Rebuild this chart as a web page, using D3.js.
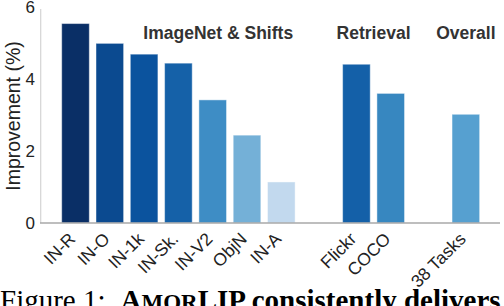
<!DOCTYPE html>
<html>
<head>
<meta charset="utf-8">
<script src="https://cdn.jsdelivr.net/npm/d3@7"></script>
<style>
body { margin: 0; background: #fff; }
svg { display: block; }
</style>
</head>
<body>
<svg id="chart" width="504" height="306"></svg>
<script>
// bars, left to right
var categories = ['IN-R', 'IN-O', 'IN-1k', 'IN-Sk.', 'IN-V2', 'ObjN', 'IN-A', 'Flickr', 'COCO', '38 Tasks'];
var values = [5.54, 4.99, 4.69, 4.44, 3.42, 2.44, 1.14, 4.41, 3.60, 3.02];
var groupIndex = [0, 0, 0, 0, 0, 0, 0, 1, 1, 2];
var groups = ['ImageNet & Shifts', 'Retrieval', 'Overall'];
var barColors = ['#0a2f66', '#0b4a90', '#0b539e', '#1561a8', '#3e8dc5', '#74b0d7', '#c2d9ee', '#1460a8', '#3787c0', '#56a0d0'];
var yTicks = [0, 2, 4, 6];

var sans = '"Liberation Sans", Arial, sans-serif';
var serif = '"Liberation Serif", "Times New Roman", serif';

var svg = d3.select('#chart').style('font-family', sans);

var groupGap = 1.19; // extra slots between groups
var slot = function(i){ return i + groupIndex[i] * groupGap; };

var x = d3.scaleLinear().domain([0, 1]).range([61.7, 96]);
var barW = (x(1) - x(0)) * 0.805;
var y = d3.scaleLinear().domain([0, 6]).range([223, 7]);

// y axis line
svg.append('line')
	.attr('x1', 40.7).attr('x2', 40.7)
	.attr('y1', y(6) + 2).attr('y2', y(0))
	.attr('stroke', '#d4d4d4').attr('stroke-width', 1.2);

svg.selectAll('.ytick')
	.data(yTicks)
	.enter().append('text')
	.attr('class', 'ytick')
	.attr('x', 35)
	.attr('y', function(d){ return y(d); })
	.attr('dy', '0.35em')
	.attr('text-anchor', 'end')
	.attr('font-size', 17)
	.attr('fill', '#222')
	.text(function(d){ return d; });

svg.append('text')
	.attr('transform', 'translate(20,' + 116 + ') rotate(-90)')
	.attr('text-anchor', 'middle')
	.attr('font-size', 19.5)
	.attr('fill', '#222')
	.text('Improvement (%)');

// bars
svg.selectAll('.bar')
	.data(values)
	.enter().append('rect')
	.attr('class', 'bar')
	.attr('x', function(d, i){ return x(slot(i)); })
	.attr('width', barW)
	.attr('y', function(d){ return y(d); })
	.attr('height', function(d){ return y(0) - y(d); })
	.attr('fill', function(d, i){ return barColors[i]; })
	.attr('stroke', 'rgba(255,255,255,0.45)')
	.attr('stroke-width', 1);

// x baseline
svg.append('line')
	.attr('x1', 40).attr('x2', 500)
	.attr('y1', y(0)).attr('y2', y(0))
	.attr('stroke', '#a8a8a8').attr('stroke-width', 1.5);

// rotated category labels
svg.selectAll('.xlab')
	.data(categories)
	.enter().append('text')
	.attr('class', 'xlab')
	.attr('transform', function(d, i){
		var cx = x(slot(i)) + barW / 2 + 1;
		return 'translate(' + cx + ',' + 240 + ') rotate(-45)';
	})
	.attr('text-anchor', 'end')
	.attr('font-size', 17.5)
	.attr('fill', '#222')
	.text(function(d){ return d; });

// group titles, over each group of bars
groups.forEach(function(g, gi){
	var idx = d3.range(categories.length).filter(function(i){ return groupIndex[i] === gi; });
	var left = x(slot(idx[0]));
	var right = x(slot(idx[idx.length - 1])) + barW;
	var t = svg.append('text')
		.attr('y', 39)
		.attr('font-size', 17.5)
		.attr('font-weight', 'bold')
		.attr('fill', '#333')
		.text(g);
	if(gi === 0){
		t.attr('x', right - 2).attr('text-anchor', 'end');
	} else {
		t.attr('x', (left + right) / 2).attr('text-anchor', 'middle');
	}
});

// caption, cut by the bottom edge
var cap = svg.append('text')
	.attr('x', 0).attr('y', 310)
	.style('font-family', serif)
	.attr('font-size', 29)
	.attr('fill', '#000');
cap.append('tspan').text('Figure 1:');
var b = cap.append('tspan').attr('font-weight', 'bold').attr('dx', 15);
b.append('tspan').text('A');
b.append('tspan').attr('font-size', 23).text('MOR');
b.append('tspan').text('LIP consistently delivers');
</script>
</body>
</html>
